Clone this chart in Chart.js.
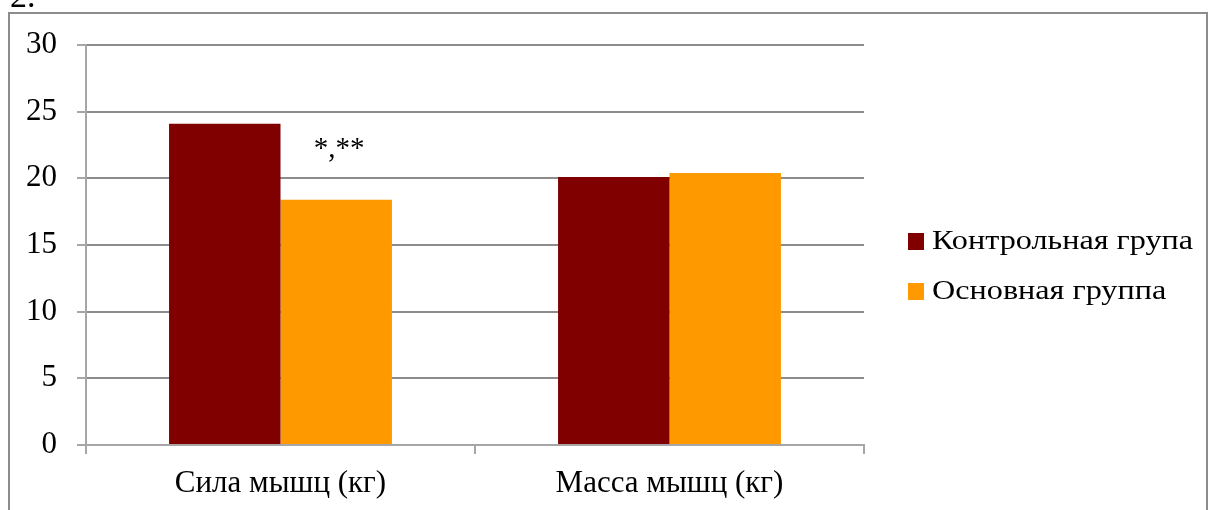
<!DOCTYPE html>
<html>
<head>
<meta charset="utf-8">
<script src="https://cdn.jsdelivr.net/npm/chart.js@4.4.0/dist/chart.umd.min.js"></script>
<style>
  html, body { margin: 0; padding: 0; background: #fff; }
  #wrap { position: relative; width: 1208px; height: 510px; }
</style>
</head>
<body>
<div id="wrap"><canvas id="chart" width="1208" height="510"></canvas></div>
<script>
var categories = ['Сила мышц (кг)', 'Масса мышц (кг)'];
var controlGroup = [24.1, 20.1];
var mainGroup = [18.4, 20.4];
var seriesNames = ['Контрольная група', 'Основная группа'];
var mainNotes = ['*,**', ''];
var yTicks = [0, 5, 10, 15, 20, 25, 30];

var serif = "'Liberation Serif', 'Times New Roman', serif";

// frame, figure number, legend and significance marks
var extras = {
  id: 'extras',
  beforeDraw: function (chart) {
    var c = chart.ctx;
    c.save();
    c.fillStyle = '#fff';
    c.fillRect(0, 0, chart.width, chart.height);
    c.strokeStyle = '#8c8c8c';
    c.lineWidth = 2;
    c.beginPath();
    c.moveTo(9, 520);
    c.lineTo(9, 13);
    c.lineTo(1207, 13);
    c.lineTo(1207, 520);
    c.stroke();
    c.fillStyle = '#000';
    c.font = '34px ' + serif;
    c.textBaseline = 'alphabetic';
    c.fillText('2.', 10, 7);
    c.restore();
  },
  afterDraw: function (chart) {
    var c = chart.ctx;
    c.save();
    c.textBaseline = 'middle';
    c.textAlign = 'left';
    chart.data.datasets.forEach(function (ds, i) {
      var y = 242 + i * 50;
      c.fillStyle = ds.backgroundColor;
      c.fillRect(908, y - 9, 16, 17);
      c.fillStyle = '#000';
      // legend text is set a little wide
      c.save();
      c.translate(932, y);
      c.scale(1.15, 1);
      c.font = '28px ' + serif;
      c.fillText(ds.label, 0, 0);
      c.restore();
    });
    // notes above the main group bars
    var meta = chart.getDatasetMeta(1);
    c.font = '29px ' + serif;
    c.textAlign = 'center';
    c.textBaseline = 'alphabetic';
    mainNotes.forEach(function (t, i) {
      if (!t) return;
      var bar = meta.data[i];
      c.fillText(t, bar.x + 3, bar.y - 43);
    });
    c.restore();
  }
};

new Chart(document.getElementById('chart'), {
  type: 'bar',
  data: {
    labels: categories,
    datasets: [
      { label: seriesNames[0], data: controlGroup, backgroundColor: '#800000' },
      { label: seriesNames[1], data: mainGroup, backgroundColor: '#ff9900' }
    ]
  },
  options: {
    responsive: false,
    animation: false,
    layout: { padding: { left: 0, top: 45, right: 344, bottom: 0 } },
    datasets: { bar: { categoryPercentage: 0.573, barPercentage: 1 } },
    plugins: { legend: { display: false }, tooltip: { enabled: false } },
    scales: {
      x: {
        grid: { drawOnChartArea: false, drawTicks: true, tickLength: 9, tickColor: '#a6a6a6', lineWidth: 2 },
        border: { color: '#a6a6a6', width: 2 },
        ticks: { color: '#000', font: { family: serif, size: 31 }, padding: 11 },
        afterFit: function (s) { s.height = 65; }
      },
      y: {
        min: 0,
        max: 30,
        afterBuildTicks: function (s) { s.ticks = yTicks.map(function (v) { return { value: v }; }); },
        grid: { color: '#8c8c8c', lineWidth: 2, tickLength: 9, tickColor: '#a6a6a6' },
        border: { color: '#a6a6a6', width: 2 },
        ticks: { color: '#000', font: { family: serif, size: 31 }, padding: 20 },
        afterFit: function (s) { s.width = 86; }
      }
    }
  },
  plugins: [extras]
});
</script>
</body>
</html>
